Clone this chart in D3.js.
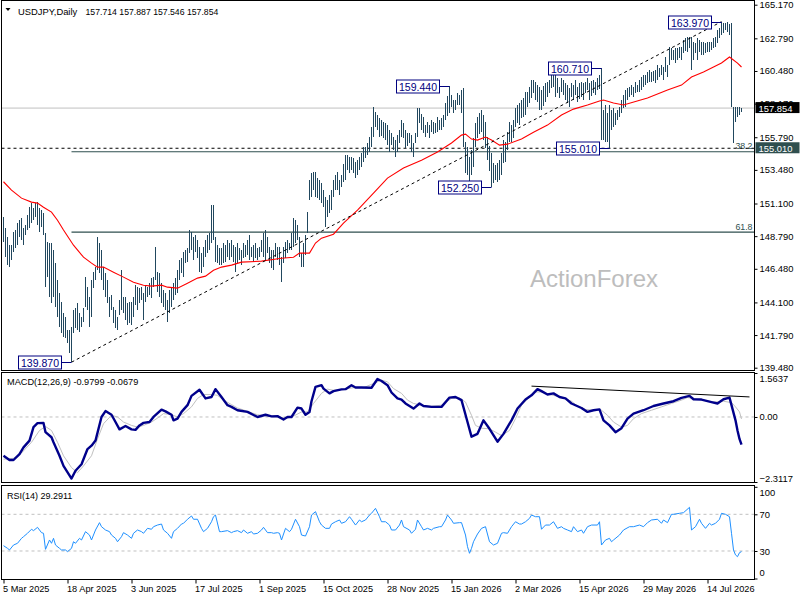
<!DOCTYPE html>
<html lang="en">
<head>
<meta charset="UTF-8">
<title>USDJPY Daily</title>
<script src="https://d3js.org/d3.v7.min.js"></script>
<style>
  body { margin: 0; background: #fff; }
  svg { display: block; }
</style>
</head>
<body>
<svg id="chart" width="800" height="600"></svg>
<script>
// ---- data ----
const symbolTitle = "USDJPY,Daily";
const headerOhlc = "157.714 157.887 157.546 157.854";
const macdTitle = "MACD(12,26,9) -0.9799 -0.0679";
const rsiTitle = "RSI(14) 29.2911";

// daily bars: [high, low], one per trading day
const priceBars = [
  [150.14,148.37],[149.36,147.30],[148.72,146.74],[148.15,146.60],[148.15,147.09],[149.07,147.66],[149.22,147.94],[149.71,148.15],[149.92,148.72],[150.07,148.51],
  [149.36,148.15],[149.57,148.86],[150.28,149.22],[150.85,149.36],[151.13,149.71],[150.78,149.92],[151.13,150.14],[151.20,149.57],[150.78,149.07],[150.63,149.43],
  [150.42,148.86],[149.00,145.18],[148.37,145.89],[148.30,144.47],[148.30,144.05],[147.80,144.47],[146.88,143.76],[145.68,143.06],[144.76,142.35],[144.12,141.92],
  [143.34,141.64],[143.06,141.57],[142.14,141.22],[142.14,140.51],[142.35,139.87],[143.55,141.92],[143.69,142.28],[144.05,142.14],[143.34,142.00],[143.06,142.35],
  [143.69,142.70],[145.89,143.76],[145.18,143.55],[144.47,142.35],[145.68,143.06],[146.24,145.11],[146.60,145.68],[148.72,146.38],[148.30,146.17],[147.80,145.68],
  [146.60,144.97],[146.17,144.47],[145.68,144.05],[144.47,143.06],[144.61,143.55],[143.76,142.63],[143.55,142.28],[143.06,142.14],[144.26,143.20],[146.38,143.55],
  [144.47,143.34],[144.47,142.84],[144.05,142.49],[144.12,142.63],[144.12,142.49],[144.47,143.06],[145.32,143.91],[145.18,143.55],[145.11,144.05],[145.18,144.26],
  [144.76,142.84],[145.32,144.12],[145.18,144.47],[145.46,144.61],[145.82,144.40],[145.89,145.18],[148.01,145.68],[146.24,144.83],[146.17,144.47],[145.46,144.05],
  [144.97,143.76],[144.76,143.55],[144.26,142.70],[144.97,143.34],[145.18,143.76],[145.46,144.26],[145.82,144.61],[146.38,144.76],[147.09,145.68],[147.23,146.17],
  [147.66,145.89],[147.80,146.88],[147.94,146.95],[149.22,147.59],[149.07,147.80],[148.72,147.09],[148.86,147.66],[148.51,147.23],[148.01,146.24],[147.59,146.17],
  [148.01,146.60],[148.51,147.30],[148.86,147.59],[149.00,147.80],[150.99,148.30],[150.99,148.51],[148.72,146.95],[148.15,146.88],[147.94,146.74],[147.94,146.74],
  [148.30,146.88],[148.15,146.95],[148.51,147.30],[148.30,147.09],
  [148.51,147.30],[148.15,146.95],[148.01,146.24],[148.30,146.88],[147.94,147.09],[147.80,146.74],[148.30,147.23],[148.15,147.30],[148.51,147.45],[148.86,147.09],
  [148.01,147.30],[148.15,146.95],[148.30,147.23],[147.94,147.09],[148.01,147.30],[148.51,147.66],[149.00,147.30],[149.22,147.09],[148.72,147.59],[148.01,146.88],
  [147.80,146.53],[147.80,146.38],[148.30,147.30],[148.01,147.09],[148.01,146.74],[147.30,145.53],[148.01,146.88],[148.37,147.23],[148.51,147.59],[148.30,147.80],
  [149.00,147.80],[150.07,148.01],[149.92,148.30],[149.57,148.51],[148.72,147.30],[147.59,146.60],[148.30,146.60],[148.86,147.45],[150.49,149.00],
  [152.76,151.34],[153.25,151.55],[153.32,152.05],[153.32,151.55],[152.90,151.48],[152.76,151.34],[152.54,151.13],[152.05,150.85],[151.55,149.43],[151.34,150.14],
  [151.70,150.40],[152.05,150.63],[152.76,151.55],[153.11,152.05],[153.32,152.05],[152.76,151.69],[153.11,152.26],[153.90,152.60],[154.53,152.76],[154.53,153.46],
  [154.38,153.25],[154.38,153.46],[154.31,153.25],[154.03,152.90],[154.20,153.10],[154.38,153.46],[154.67,153.68],[155.09,154.03],[155.09,154.31],[155.38,154.53],
  [155.80,154.74],[156.51,155.09],[157.92,155.80],[157.57,156.51],[157.36,156.30],[157.15,155.80],[157.00,155.90],[156.86,155.73],[156.79,155.59],[156.65,155.23],
  [156.30,154.74],[156.08,155.23],[155.80,154.90],[155.59,154.38],[155.94,154.74],[156.30,155.38],[157.00,155.80],[156.79,155.73],[156.30,155.02],[156.10,155.20],
  [156.08,155.38],[155.94,154.74],[155.38,154.38],[156.08,155.38],[157.85,155.80],[157.85,156.79],[157.40,156.30],[157.22,156.08],[156.65,155.80],[156.86,156.08],
  [156.65,155.73],[157.00,156.15],[156.90,156.00],[156.79,156.08],[157.22,156.15],[157.00,156.30],[157.15,156.30],[157.36,156.51],[158.21,157.00],[158.70,157.30],
  [159.44,157.50],[158.77,157.92],[158.42,157.50],[158.42,157.71],[158.92,158.07],[158.77,158.07],
  [159.13,157.50],[159.27,155.09],[155.45,153.25],[155.09,153.11],[154.38,152.54],[154.88,153.11],[155.73,153.68],[156.79,155.09],[157.22,155.73],[157.50,156.00],
  [157.71,156.15],[157.36,155.59],[156.86,155.02],[155.80,154.17],[155.20,153.40],[154.67,152.25],[153.96,152.54],[153.82,152.76],[153.96,152.61],[154.17,152.76],
  [154.67,153.11],[155.59,153.96],[155.45,154.03],[156.15,154.88],[156.86,155.45],[156.65,155.45],[157.00,155.73],[157.85,156.51],[158.07,156.79],[158.21,156.65],
  [158.42,157.15],[158.60,157.20],[158.99,157.36],[158.99,157.92],[159.34,158.21],[159.84,158.56],[159.84,158.92],[159.70,158.42],[159.48,158.28],[159.34,157.71],
  [159.13,157.71],[159.40,158.00],[159.63,158.28],[159.70,158.63],[159.84,158.92],[160.19,159.27],[160.40,159.34],[160.19,158.63],[159.98,158.92],[159.34,158.56],
  [159.98,158.99],[159.84,158.77],[159.63,158.42],[159.50,158.20],[159.27,157.92],[159.63,158.63],[159.48,158.42],[159.84,158.77],[159.34,158.28],[159.60,158.50],
  [159.70,158.63],[159.63,158.42],[159.70,158.92],[159.98,159.13],[159.63,158.42],[159.80,158.70],[159.84,158.92],[159.70,158.77],[159.98,159.13],[160.20,159.20],
  [160.71,155.59],[157.71,155.59],[158.07,155.45],[157.50,155.45],[158.07,155.01],[157.71,156.30],[157.85,156.51],[157.50,156.65],[157.71,157.00],[157.92,157.22],
  [158.40,157.50],[158.77,157.85],[159.13,157.92],[159.27,158.42],[159.34,158.63],[159.48,158.77],[159.34,158.63],[159.70,158.92],[159.48,158.99],[159.84,158.99],
  [160.05,159.13],[160.19,159.34],[160.19,159.48],[160.40,159.63],[160.54,159.70],[160.40,159.70],[160.45,159.75],[160.54,159.63],[160.90,159.84],[160.68,160.05],
  [160.90,160.19],[160.76,159.84],[161.47,160.40],[160.90,160.05],[162.18,160.90],[162.11,161.25],[161.96,161.25],[162.11,161.04],[162.11,161.25],[162.18,161.40],
  [162.18,161.25],[162.67,161.75],[162.80,161.90],[162.88,161.82],[162.88,162.10],[162.88,160.54],[162.53,161.25],[162.46,161.75],[162.81,161.25],[162.67,161.82],
  [162.53,161.61],[162.53,161.61],[162.46,161.75],[162.50,161.80],[162.53,161.82],[162.53,161.96],[162.81,162.10],[162.88,162.18],[163.38,162.46],[163.52,162.81],
  [163.97,163.02],[163.90,163.17],[163.85,163.38],[163.92,163.24],[163.80,163.02],[163.85,157.92],[157.95,155.40],[157.92,156.90],[157.92,157.22],[157.92,157.36],
  [157.887,157.546]
];

// red moving average: [bar, price]
const movingAvg = [
  [0,152.64],[4,152.05],[9,151.48],[14,151.20],[17,151.13],[20,150.84],[24,150.49],[27,149.92],[30,149.22],[35,148.15],
  [40,147.30],[44,146.88],[47,146.60],[50,146.60],[55,146.24],[60,145.89],[65,145.53],[70,145.32],[74,145.25],[79,145.32],
  [82,145.18],[87,145.11],[92,145.46],[97,145.82],[101,145.96],[105,146.38],[109,146.60],[114,146.74],[119,146.95],[129,147.02],
  [139,147.23],[145,147.30],[148,147.59],[153,147.59],[156,148.30],[159,148.65],[165,148.93],[170,149.71],[177,150.63],[185,151.84],
  [192,152.90],[200,153.61],[209,154.17],[217,154.74],[224,155.38],[229,155.94],[231,156.01],[234,155.66],[237,155.59],[241,155.80],
  [244,155.59],[248,155.23],[252,155.30],[259,155.66],[265,156.15],[272,156.65],[279,157.36],[285,157.78],[292,158.07],[298,158.35],
  [300,158.42],[305,158.21],[310,158.07],[322,158.56],[332,159.13],[339,159.48],[344,160.05],[350,160.40],[359,161.04],[363,161.47],
  [367,161.04],[369,160.76]
];

// MACD main line and signal line: [bar, value]
const macdLine = [
  [0,-1.38],[3,-1.53],[5,-1.53],[8,-1.32],[10,-1.08],[13,-0.84],[15,-0.36],[17,-0.22],[20,-0.21],[21,-0.54],
  [24,-0.72],[25,-0.90],[28,-1.38],[30,-1.74],[34,-2.19],[36,-1.91],[39,-1.68],[42,-1.14],[44,-1.02],[46,-0.84],
  [49,0.00],[51,0.21],[54,0.08],[56,-0.18],[58,-0.44],[61,-0.32],[64,-0.44],[66,-0.46],[68,-0.30],[70,-0.21],
  [73,-0.18],[75,0.00],[79,0.26],[81,0.20],[84,0.08],[85,-0.12],[87,-0.06],[89,0.18],[92,0.42],[94,0.75],
  [98,0.97],[101,0.66],[104,0.71],[106,0.99],[109,0.71],[112,0.42],[114,0.36],[117,0.24],[122,0.18],[127,0.00],
  [131,0.08],[134,0.02],[137,0.03],[140,-0.09],[142,0.00],[144,0.00],[147,0.33],[149,0.30],[151,0.08],[153,0.18],
  [154,0.56],[156,1.07],[159,1.13],[160,1.01],[163,0.84],[165,0.92],[169,0.98],[171,0.99],[174,1.13],[176,1.05],
  [179,1.05],[184,1.04],[187,1.35],[189,1.28],[192,1.13],[194,0.87],[197,0.66],[199,0.62],[201,0.48],[205,0.30],
  [208,0.48],[210,0.39],[214,0.36],[219,0.36],[223,0.69],[226,0.71],[229,0.60],[232,-0.18],[234,-0.70],[237,-0.60],
  [240,-0.12],[243,-0.42],[247,-0.88],[250,-0.60],[254,-0.12],[257,0.30],[261,0.62],[264,0.77],[267,0.99],[269,0.92],
  [272,0.80],[275,0.84],[278,0.71],[281,0.66],[284,0.48],[289,0.32],[292,0.18],[295,0.24],[298,0.27],[300,-0.12],
  [303,-0.30],[306,-0.54],[309,-0.40],[312,-0.06],[315,0.12],[320,0.24],[325,0.39],[330,0.48],[335,0.56],[339,0.68],
  [343,0.75],[345,0.63],[349,0.62],[354,0.53],[357,0.48],[360,0.63],[363,0.69],[364,0.42],[366,-0.12],[367,-0.48],
  [368,-0.78],[369,-0.98]
];
const signalLine = [
  [0,-1.50],[5,-1.47],[9,-1.28],[14,-0.90],[18,-0.48],[21,-0.34],[24,-0.48],[27,-0.90],[30,-1.38],[34,-1.80],
  [37,-1.98],[40,-1.74],[44,-1.38],[47,-0.78],[50,-0.24],[54,0.06],[57,0.00],[60,-0.18],[64,-0.30],[67,-0.36],
  [70,-0.30],[74,-0.18],[77,-0.04],[80,0.12],[84,0.08],[87,0.00],[90,0.12],[94,0.36],[97,0.66],[100,0.80],
  [104,0.80],[107,0.77],[110,0.60],[114,0.44],[117,0.32],[122,0.20],[127,0.08],[132,0.03],[137,0.00],[142,-0.04],
  [145,0.03],[149,0.18],[152,0.18],[155,0.48],[159,0.84],[162,0.99],[165,0.95],[170,0.99],[175,1.04],[180,1.04],
  [185,1.19],[189,1.31],[192,1.25],[195,1.01],[199,0.84],[202,0.60],[205,0.48],[209,0.42],[214,0.38],[219,0.42],
  [224,0.66],[228,0.68],[231,0.53],[234,0.06],[236,-0.30],[239,-0.40],[243,-0.42],[246,-0.54],[249,-0.66],[253,-0.48],
  [256,-0.06],[259,0.42],[263,0.71],[266,0.89],[269,0.89],[273,0.80],[276,0.75],[280,0.68],[284,0.56],[287,0.39],
  [291,0.27],[295,0.24],[299,0.24],[302,0.06],[305,-0.18],[309,-0.36],[312,-0.30],[315,-0.06],[319,0.12],[324,0.24],
  [329,0.36],[334,0.48],[339,0.60],[342,0.69],[345,0.66],[350,0.60],[355,0.53],[360,0.56],[364,0.51],[366,0.36],
  [368,0.18],[369,-0.07]
];
const macdTrend = [[264,1.097],[373,0.713]];

// RSI(14): [bar, value]
const rsiLine = [
  [0,35.8],[2,32.9],[3,31.1],[5,36.5],[7,38.4],[9,43.8],[10,45.6],[12,49.3],[14,53.7],[15,52.2],
  [17,55.8],[19,50.0],[20,49.3],[21,31.8],[23,42.0],[24,38.4],[25,43.8],[26,36.5],[28,32.9],[29,31.1],
  [31,31.1],[32,29.3],[34,32.9],[35,40.1],[36,38.4],[38,43.8],[39,42.0],[41,51.1],[43,47.4],[44,42.0],
  [46,52.9],[48,60.9],[49,56.5],[51,52.9],[53,51.1],[54,47.4],[56,43.8],[57,40.1],[59,45.6],[60,50.0],
  [62,47.4],[64,43.8],[65,49.3],[67,52.9],[69,51.1],[70,49.3],[72,54.7],[74,53.7],[75,56.5],[77,58.3],
  [79,59.4],[80,52.9],[82,49.3],[84,43.8],[85,51.1],[87,54.7],[89,59.4],[90,60.2],[92,64.6],[94,68.2],
  [95,64.6],[97,64.6],[99,54.7],[100,51.1],[102,54.7],[104,61.9],[105,67.4],[106,69.2],[108,51.1],[109,51.1],
  [112,52.2],[114,50.0],[115,51.1],[117,52.2],[119,50.0],[120,52.9],[122,49.3],[124,51.1],[125,48.5],[127,49.3],
  [129,52.9],[130,55.8],[132,50.0],[134,50.0],[135,49.3],[137,50.0],[138,49.3],[139,42.0],[141,54.7],[143,51.1],
  [144,53.7],[146,64.6],[148,56.5],[149,47.4],[151,46.3],[153,56.5],[154,69.2],[156,72.9],[158,61.9],[159,58.3],
  [161,54.7],[163,54.7],[164,59.4],[166,61.9],[168,63.8],[169,60.2],[171,61.9],[173,67.4],[174,64.6],[176,58.3],
  [178,63.8],[179,61.9],[181,63.8],[183,69.2],[184,71.1],[186,76.5],[188,67.4],[189,61.9],[191,61.9],[193,58.3],
  [194,52.9],[196,52.9],[198,58.3],[199,63.8],[200,56.5],[203,52.9],[204,49.3],[206,53.7],[207,63.8],[209,56.5],
  [210,52.9],[212,54.7],[214,52.9],[215,54.7],[218,56.5],[219,56.5],[221,63.8],[222,69.2],[224,63.8],[225,60.2],
  [228,60.9],[229,60.9],[231,47.4],[232,34.7],[233,27.5],[234,32.9],[235,40.1],[237,48.5],[239,54.7],[241,56.5],
  [243,40.1],[245,36.5],[247,38.4],[249,49.3],[250,50.0],[252,49.3],[254,56.5],[256,61.9],[258,59.4],[259,59.4],
  [261,61.9],[263,65.6],[264,69.2],[266,67.4],[268,67.4],[269,53.7],[271,58.3],[273,58.3],[275,61.9],[277,54.7],
  [279,56.5],[280,54.7],[282,52.9],[284,51.1],[285,56.5],[287,51.1],[289,52.9],[290,49.3],[292,56.5],[294,58.3],
  [297,58.3],[298,61.9],[299,36.5],[301,42.0],[303,43.8],[304,40.1],[305,42.0],[308,47.4],[310,52.9],[313,56.5],
  [315,56.5],[318,58.3],[320,56.5],[322,60.9],[324,63.8],[327,64.6],[329,60.2],[330,63.8],[332,60.9],[334,70.0],
  [335,70.0],[338,71.1],[340,71.8],[343,77.6],[344,52.9],[346,56.5],[348,64.6],[349,60.2],[351,54.7],[353,60.2],
  [354,58.3],[356,60.2],[358,64.6],[359,71.1],[361,70.0],[363,67.4],[364,49.3],[365,31.1],[366,25.7],[367,23.8],
  [368,28.2],[369,29.3]
];
const rsiLevels = [70, 30];

// axis ticks
const priceTicks = [165.170, 162.790, 160.480, 158.170, 155.790, 153.480, 151.100, 148.790, 146.480, 144.100, 141.790, 139.480];
const macdTicks = [1.5637, 0, -2.3117];
const rsiTicks = [100, 70, 30, 0];
const dateLabels = ["5 Mar 2025","18 Apr 2025","3 Jun 2025","17 Jul 2025","1 Sep 2025","15 Oct 2025",
                    "28 Nov 2025","15 Jan 2026","2 Mar 2026","15 Apr 2026","29 May 2026","14 Jul 2026"];
const barsPerDateLabel = 32;

// swing labels: price and the bar they point at
const swingPrices = [163.970, 160.710, 159.440, 155.010, 152.250, 139.870];
const swingBars   = [359, 299, 223, 303, 244, 34];

// fibonacci retracement of the 139.870 -> 163.970 swing
const fibLow = 139.870, fibHigh = 163.970, fibStartBar = 34;
const fibRatios = [0.382, 0.618];
const fibNames = ["38.2", "61.8"];

const lastPrice = 157.854;
const supportPrice = 155.010;

// ---- drawing ----
const FONT = "'Liberation Sans', Arial, sans-serif";
const plotL = 1.5, plotR = 754.5;
const mainP = { top: 0.5, bottom: 370.5 };
const macdP = { top: 372.5, bottom: 482.5 };
const rsiP  = { top: 485.5, bottom: 579.5 };

const svg = d3.select("#chart").style("font-family", FONT);

const x = d3.scaleLinear().domain([0, priceBars.length - 1]).range([3.5, 741.5]);
const yPrice = d3.scaleLinear().domain([139.48, 165.17]).range([367.7, 4.7]);
const yMacd = d3.scaleLinear().domain([-2.3117, 1.5637]).range([482, 373]);
const yRsi = d3.scaleLinear().domain([0, 100]).range([578.5, 486.8]);

// horizontal reference lines in the main panel
svg.append("line")
  .attr("x1", plotL).attr("x2", plotR)
  .attr("y1", yPrice(lastPrice)).attr("y2", yPrice(lastPrice))
  .attr("stroke", "#c0c0c0").attr("stroke-width", 1);

fibRatios.forEach((r, k) => {
  const p = fibHigh - r * (fibHigh - fibLow);
  svg.append("line")
    .attr("x1", x(fibStartBar)).attr("x2", plotR)
    .attr("y1", yPrice(p)).attr("y2", yPrice(p))
    .attr("stroke", "#2f4f4f").attr("stroke-width", 1.2);
  svg.append("text")
    .attr("x", plotR - 2).attr("y", yPrice(p) - 2.5)
    .attr("text-anchor", "end")
    .attr("font-size", 8.8).attr("fill", "#2f4f4f")
    .text(fibNames[k]);
});

svg.append("line")
  .attr("x1", plotL).attr("x2", plotR)
  .attr("y1", yPrice(supportPrice)).attr("y2", yPrice(supportPrice))
  .attr("stroke", "#000").attr("stroke-width", 1).attr("stroke-dasharray", "3,3");

// watermark
svg.append("text")
  .attr("x", 530).attr("y", 287)
  .attr("font-size", 24).attr("fill", "#bdbdbd")
  .text("ActionForex");

// bars
svg.append("g")
  .selectAll("line")
  .data(priceBars)
  .join("line")
  .attr("x1", (d, i) => x(i)).attr("x2", (d, i) => x(i))
  .attr("y1", d => yPrice(d[0])).attr("y2", d => yPrice(d[1]))
  .attr("stroke", "#21475e").attr("stroke-width", 1)
  .attr("shape-rendering", "crispEdges");

// moving average
svg.append("path")
  .datum(movingAvg)
  .attr("fill", "none").attr("stroke", "#ff0000").attr("stroke-width", 1.1)
  .attr("d", d3.line().x(d => x(d[0])).y(d => yPrice(d[1])));

// trend line from swing low to swing high
const lowIdx = swingPrices.indexOf(fibLow), highIdx = swingPrices.indexOf(fibHigh);
svg.append("line")
  .attr("x1", x(swingBars[lowIdx])).attr("y1", yPrice(fibLow))
  .attr("x2", x(swingBars[highIdx])).attr("y2", yPrice(fibHigh))
  .attr("stroke", "#000").attr("stroke-width", 1).attr("stroke-dasharray", "3,3");

// swing labels
swingPrices.forEach((p, k) => {
  const bx = x(swingBars[k]);
  const yy = Math.round(yPrice(p)) + 0.5;
  const right = bx - 10, w = 43, h = 13;
  svg.append("line")
    .attr("x1", right).attr("x2", bx).attr("y1", yy).attr("y2", yy)
    .attr("stroke", "#000080").attr("stroke-width", 1);
  svg.append("rect")
    .attr("x", right - w).attr("y", yy - h / 2).attr("width", w).attr("height", h)
    .attr("fill", "#fff").attr("stroke", "#000080").attr("stroke-width", 1);
  svg.append("text")
    .attr("x", right - w / 2).attr("y", yy + 4)
    .attr("text-anchor", "middle").attr("font-size", 10.5).attr("fill", "#000080")
    .text(p.toFixed(3));
});

// header
svg.append("path").attr("d", "M5.5,8 L10.5,8 L8,11 Z").attr("fill", "#000");
svg.append("text").attr("x", 18).attr("y", 14.5).attr("font-size", 9.4).attr("fill", "#000").text(symbolTitle);
svg.append("text").attr("x", 85.5).attr("y", 14.5).attr("font-size", 8.7).attr("fill", "#000").text(headerOhlc);

// ---- MACD panel ----
svg.append("line")
  .attr("x1", plotL).attr("x2", plotR).attr("y1", yMacd(0)).attr("y2", yMacd(0))
  .attr("stroke", "#c0c0c0").attr("stroke-dasharray", "3,3");
svg.append("path")
  .datum(signalLine)
  .attr("fill", "none").attr("stroke", "#c0c0c0").attr("stroke-width", 1)
  .attr("d", d3.line().x(d => x(d[0])).y(d => yMacd(d[1])));
svg.append("path")
  .datum(macdLine)
  .attr("fill", "none").attr("stroke", "#00008b").attr("stroke-width", 2.4)
  .attr("stroke-linejoin", "round")
  .attr("d", d3.line().x(d => x(d[0])).y(d => yMacd(d[1])));
svg.append("line")
  .attr("x1", x(macdTrend[0][0])).attr("y1", yMacd(macdTrend[0][1]))
  .attr("x2", x(macdTrend[1][0])).attr("y2", yMacd(macdTrend[1][1]))
  .attr("stroke", "#000").attr("stroke-width", 1);
svg.append("text").attr("x", 7).attr("y", 384.5).attr("font-size", 9.2).attr("fill", "#000").text(macdTitle);

// ---- RSI panel ----
rsiLevels.forEach(v => {
  svg.append("line")
    .attr("x1", plotL).attr("x2", plotR).attr("y1", yRsi(v)).attr("y2", yRsi(v))
    .attr("stroke", "#c0c0c0").attr("stroke-dasharray", "3,3");
});
svg.append("path")
  .datum(rsiLine)
  .attr("fill", "none").attr("stroke", "#1e90ff").attr("stroke-width", 1)
  .attr("d", d3.line().x(d => x(d[0])).y(d => yRsi(d[1])));
svg.append("text").attr("x", 7).attr("y", 498.5).attr("font-size", 9).attr("fill", "#000").text(rsiTitle);

// ---- panel frames ----
[mainP, macdP, rsiP].forEach(p => {
  svg.append("rect")
    .attr("x", plotL).attr("y", p.top)
    .attr("width", plotR - plotL).attr("height", p.bottom - p.top)
    .attr("fill", "none").attr("stroke", "#000").attr("stroke-width", 1)
    .attr("shape-rendering", "crispEdges");
});

// ---- axes ----
function styleAxis(g, size) {
  g.select(".domain").remove();
  g.attr("font-family", FONT).attr("font-size", size);
  g.selectAll(".tick line").attr("stroke", "#000");
  g.selectAll(".tick text").attr("fill", "#000");
}

svg.append("g")
  .attr("transform", `translate(${plotR},0)`)
  .call(d3.axisRight(yPrice).tickValues(priceTicks).tickFormat(d3.format(".3f")).tickSize(3).tickPadding(2))
  .call(g => styleAxis(g, 9.4));

svg.append("g")
  .attr("transform", `translate(${plotR},0)`)
  .call(d3.axisRight(yMacd).tickValues(macdTicks)
    .tickFormat(d => d === 0 ? "0.00" : d3.format(".4f")(d)).tickSize(3).tickPadding(2))
  .call(g => styleAxis(g, 9.4))
  .call(g => g.selectAll(".tick text").attr("dy", d => d === macdTicks[0] ? "0.95em" : d === macdTicks[2] ? "-0.05em" : "0.32em"));

svg.append("g")
  .attr("transform", `translate(${plotR},0)`)
  .call(d3.axisRight(yRsi).tickValues(rsiTicks).tickSize(3).tickPadding(2))
  .call(g => styleAxis(g, 9.4))
  .call(g => g.selectAll(".tick text").attr("dy", d => d === 100 ? "0.9em" : d === 0 ? "-0.35em" : "0.32em"));

const dateTicks = dateLabels.map((_, k) => k * barsPerDateLabel);
svg.append("g")
  .attr("transform", `translate(0,${rsiP.bottom})`)
  .call(d3.axisBottom(x).tickValues(dateTicks).tickFormat((d, k) => dateLabels[k]).tickSize(4).tickPadding(2))
  .call(g => styleAxis(g, 9.2))
  .call(g => g.selectAll(".tick text").attr("text-anchor", "start").attr("x", -1));

// ---- value badges on the price axis ----
[[lastPrice, "#000"], [supportPrice, "#2f4f4f"]].forEach(([p, bg]) => {
  const yy = yPrice(p);
  svg.append("rect")
    .attr("x", plotR + 1).attr("y", yy - 6).attr("width", 44).attr("height", 11)
    .attr("fill", bg);
  svg.append("text")
    .attr("x", plotR + 4).attr("y", yy + 3.5)
    .attr("font-size", 9.4).attr("fill", "#fff")
    .text(p.toFixed(3));
});
</script>
</body>
</html>
